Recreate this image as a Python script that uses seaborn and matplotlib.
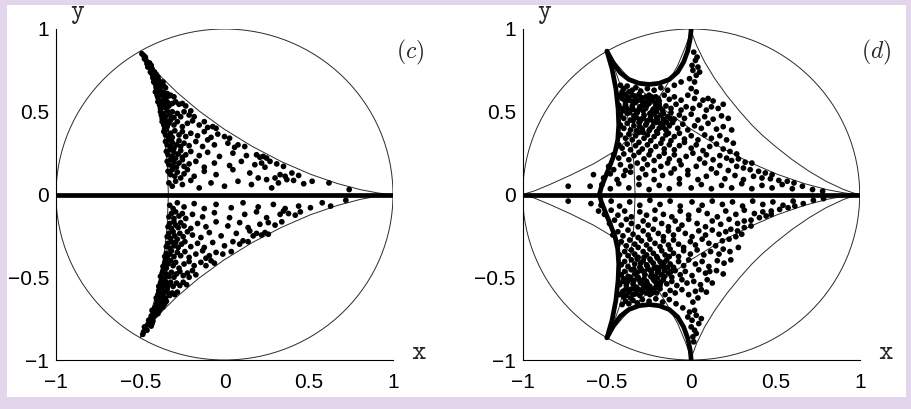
import seaborn as sns
import matplotlib.pyplot as plt
from matplotlib.patches import Circle, Rectangle

# scattered points as (x, y)
c_upper = [(-0.49,0.85),(-0.48,0.84),(-0.475,0.82),(-0.47,0.83),(-0.465,0.81),
    (-0.46,0.79),(-0.45,0.78),(-0.455,0.77),(-0.44,0.77),(-0.445,0.795),(-0.43,0.76),(-0.435,0.78),
    (-0.44,0.74),(-0.43,0.73),(-0.42,0.72),(-0.41,0.71),(-0.40,0.70),(-0.425,0.705),(-0.415,0.74),(-0.405,0.725),(-0.395,0.71),
    (-0.42,0.68),(-0.41,0.67),(-0.40,0.66),(-0.39,0.69),(-0.38,0.675),(-0.37,0.66),(-0.36,0.655),(-0.35,0.645),(-0.405,0.645),(-0.385,0.64),(-0.365,0.68),
    (-0.41,0.62),(-0.40,0.60),(-0.39,0.61),(-0.38,0.625),(-0.37,0.60),(-0.36,0.615),(-0.35,0.59),(-0.34,0.61),(-0.33,0.595),(-0.32,0.60),(-0.30,0.59),(-0.395,0.585),(-0.355,0.58),
    (-0.395,0.56),(-0.385,0.54),(-0.375,0.565),(-0.365,0.53),(-0.355,0.55),(-0.34,0.56),(-0.33,0.535),(-0.31,0.55),(-0.29,0.56),(-0.27,0.545),(-0.25,0.55),(-0.23,0.535),(-0.38,0.52),(-0.35,0.525),
    (-0.38,0.50),(-0.375,0.48),(-0.36,0.49),(-0.35,0.47),(-0.34,0.505),(-0.325,0.48),(-0.31,0.50),(-0.30,0.465),(-0.28,0.49),(-0.26,0.47),(-0.24,0.50),(-0.21,0.48),(-0.18,0.47),(-0.20,0.505),(-0.37,0.46),
    (-0.37,0.44),(-0.36,0.42),(-0.35,0.445),(-0.34,0.41),(-0.33,0.43),(-0.32,0.45),(-0.30,0.42),(-0.28,0.44),(-0.25,0.41),(-0.22,0.43),(-0.19,0.445),(-0.15,0.42),(-0.12,0.44),(-0.10,0.405),(-0.07,0.41),(-0.05,0.40),(-0.355,0.40),
    (-0.36,0.38),(-0.35,0.36),(-0.345,0.39),(-0.335,0.35),(-0.32,0.37),(-0.31,0.345),(-0.295,0.385),(-0.27,0.36),(-0.25,0.38),(-0.23,0.35),(-0.20,0.37),(-0.16,0.355),(-0.12,0.38),(-0.08,0.345),(-0.04,0.365),(0.0,0.35),(0.03,0.34),(-0.10,0.33),
    (-0.35,0.32),(-0.34,0.30),(-0.33,0.33),(-0.32,0.29),(-0.31,0.315),(-0.30,0.28),(-0.285,0.30),(-0.27,0.325),(-0.26,0.29),(-0.24,0.31),(-0.21,0.295),(-0.17,0.32),(-0.13,0.29),(-0.06,0.30),(0.02,0.31),(0.06,0.285),(0.12,0.29),(0.08,0.30),
    (-0.345,0.26),(-0.335,0.24),(-0.325,0.27),(-0.31,0.23),(-0.30,0.255),(-0.29,0.22),(-0.275,0.245),(-0.26,0.265),(-0.25,0.225),(-0.23,0.24),(-0.20,0.26),(-0.15,0.235),(-0.10,0.255),(-0.03,0.23),(0.05,0.25),(0.13,0.235),(0.19,0.24),(0.21,0.225),(0.23,0.23),(0.25,0.22),
    (-0.34,0.20),(-0.33,0.18),(-0.32,0.21),(-0.31,0.17),(-0.30,0.195),(-0.285,0.165),(-0.27,0.19),(-0.25,0.21),(-0.24,0.17),(-0.21,0.185),(-0.17,0.20),(-0.12,0.165),(-0.06,0.19),(0.03,0.175),(0.10,0.20),(0.18,0.18),(0.22,0.19),(0.27,0.20),(0.31,0.185),(0.35,0.17),(0.24,0.165),
    (-0.335,0.14),(-0.32,0.12),(-0.31,0.15),(-0.295,0.11),(-0.28,0.135),(-0.26,0.10),(-0.24,0.125),(-0.22,0.15),(-0.18,0.11),(-0.12,0.14),(-0.05,0.12),(0.05,0.15),(0.15,0.13),(0.20,0.10),(0.33,0.12),(0.30,0.10),(0.36,0.11),(0.40,0.13),(0.44,0.115),(0.37,0.09),
    (-0.33,0.07),(-0.31,0.05),(-0.29,0.08),(-0.25,0.06),(-0.20,0.085),(-0.15,0.04),(-0.08,0.07),(0.0,0.05),(0.08,0.08),(0.16,0.06),(0.25,0.09),(0.32,0.07),(0.41,0.085),(0.47,0.065),(0.52,0.08),(0.62,0.07),(0.74,0.03),(0.28,0.04)]

c_lower = [(-0.485,-0.845),(-0.48,-0.83),(-0.47,-0.815),(-0.475,-0.80),(-0.46,-0.82),
    (-0.455,-0.785),(-0.445,-0.77),(-0.45,-0.76),(-0.435,-0.795),(-0.44,-0.755),(-0.425,-0.765),(-0.43,-0.78),
    (-0.435,-0.735),(-0.425,-0.745),(-0.42,-0.715),(-0.41,-0.73),(-0.40,-0.705),(-0.395,-0.72),(-0.43,-0.70),(-0.385,-0.70),(-0.415,-0.70),
    (-0.415,-0.685),(-0.405,-0.665),(-0.395,-0.69),(-0.385,-0.67),(-0.375,-0.655),(-0.365,-0.68),(-0.355,-0.66),(-0.345,-0.645),(-0.40,-0.645),(-0.38,-0.64),(-0.36,-0.64),
    (-0.405,-0.625),(-0.395,-0.605),(-0.385,-0.62),(-0.375,-0.595),(-0.365,-0.61),(-0.35,-0.625),(-0.34,-0.59),(-0.325,-0.61),(-0.31,-0.595),(-0.295,-0.605),(-0.39,-0.58),(-0.355,-0.585),(-0.28,-0.59),
    (-0.39,-0.555),(-0.38,-0.535),(-0.37,-0.56),(-0.36,-0.545),(-0.35,-0.525),(-0.335,-0.55),(-0.32,-0.53),(-0.305,-0.555),(-0.285,-0.535),(-0.265,-0.55),(-0.245,-0.53),(-0.225,-0.545),(-0.375,-0.52),(-0.34,-0.57),
    (-0.38,-0.495),(-0.37,-0.475),(-0.355,-0.505),(-0.345,-0.48),(-0.33,-0.495),(-0.315,-0.47),(-0.30,-0.50),(-0.285,-0.48),(-0.265,-0.465),(-0.245,-0.49),(-0.22,-0.475),(-0.19,-0.46),(-0.17,-0.485),(-0.21,-0.50),(-0.365,-0.46),
    (-0.365,-0.435),(-0.355,-0.415),(-0.345,-0.445),(-0.335,-0.42),(-0.32,-0.40),(-0.305,-0.43),(-0.29,-0.41),(-0.27,-0.445),(-0.24,-0.42),(-0.21,-0.405),(-0.18,-0.43),(-0.14,-0.41),(-0.11,-0.43),(-0.08,-0.40),(-0.06,-0.415),(-0.35,-0.40),
    (-0.355,-0.375),(-0.345,-0.355),(-0.34,-0.385),(-0.325,-0.36),(-0.315,-0.34),(-0.30,-0.375),(-0.28,-0.35),(-0.26,-0.37),(-0.235,-0.345),(-0.21,-0.38),(-0.17,-0.36),(-0.13,-0.34),(-0.09,-0.37),(-0.05,-0.35),(-0.01,-0.36),(0.04,-0.345),(-0.11,-0.385),
    (-0.345,-0.315),(-0.335,-0.295),(-0.325,-0.325),(-0.315,-0.285),(-0.30,-0.31),(-0.29,-0.29),(-0.275,-0.32),(-0.255,-0.30),(-0.235,-0.285),(-0.20,-0.315),(-0.16,-0.295),(-0.12,-0.32),(-0.07,-0.29),(0.0,-0.31),(0.05,-0.285),(0.09,-0.30),(0.11,-0.28),(0.14,-0.285),
    (-0.34,-0.255),(-0.33,-0.235),(-0.32,-0.265),(-0.305,-0.225),(-0.295,-0.25),(-0.28,-0.27),(-0.265,-0.235),(-0.245,-0.255),(-0.22,-0.225),(-0.19,-0.245),(-0.14,-0.26),(-0.09,-0.23),(-0.02,-0.25),(0.07,-0.235),(0.15,-0.22),(0.19,-0.235),(0.22,-0.245),(0.24,-0.23),(0.26,-0.24),(0.17,-0.25),
    (-0.335,-0.195),(-0.325,-0.175),(-0.315,-0.205),(-0.30,-0.165),(-0.29,-0.185),(-0.275,-0.20),(-0.26,-0.17),(-0.24,-0.19),(-0.20,-0.205),(-0.16,-0.175),(-0.11,-0.195),(-0.05,-0.165),(0.02,-0.19),(0.09,-0.17),(0.14,-0.20),(0.21,-0.18),(0.26,-0.17),(0.30,-0.185),(0.34,-0.165),
    (-0.33,-0.135),(-0.315,-0.115),(-0.30,-0.145),(-0.29,-0.105),(-0.27,-0.13),(-0.25,-0.115),(-0.23,-0.145),(-0.19,-0.12),(-0.13,-0.135),(-0.06,-0.11),(0.03,-0.14),(0.12,-0.12),(0.19,-0.105),(0.25,-0.14),(0.33,-0.12),(0.35,-0.10),(0.38,-0.115),(0.42,-0.125),(0.45,-0.105),
    (-0.325,-0.065),(-0.305,-0.085),(-0.28,-0.05),(-0.24,-0.075),(-0.18,-0.055),(-0.12,-0.085),(-0.05,-0.06),(0.04,-0.08),(0.11,-0.05),(0.2,-0.075),(0.29,-0.06),(0.36,-0.085),(0.44,-0.07),(0.51,-0.08),(0.63,-0.07),(0.72,-0.035),(0.58,-0.05)]

d_upper = [(0.015,0.86),(0.025,0.81),(0.005,0.78),(0.035,0.83),
    (0.01,0.75),(0.03,0.72),(-0.01,0.70),(0.04,0.77),(0.02,0.68),(0.05,0.74),
    (-0.42,0.66),(-0.40,0.64),(-0.38,0.655),(-0.35,0.63),(-0.33,0.645),(-0.30,0.625),(-0.26,0.64),(-0.22,0.63),(-0.18,0.645),(-0.14,0.63),(-0.10,0.66),(-0.06,0.68),(0.0,0.64),(0.03,0.62),(-0.41,0.62),(-0.37,0.62),
    (-0.43,0.60),(-0.41,0.58),(-0.39,0.605),(-0.37,0.57),(-0.35,0.60),(-0.33,0.58),(-0.31,0.605),(-0.29,0.565),(-0.27,0.59),(-0.25,0.60),(-0.23,0.57),(-0.21,0.59),(-0.19,0.565),(-0.16,0.60),(-0.13,0.575),(-0.10,0.59),(-0.06,0.57),(-0.02,0.60),(0.02,0.58),(0.07,0.57),(0.10,0.58),(0.13,0.565),
    (-0.43,0.54),(-0.41,0.52),(-0.39,0.545),(-0.37,0.51),(-0.35,0.535),(-0.33,0.555),(-0.31,0.515),(-0.29,0.54),(-0.27,0.52),(-0.25,0.55),(-0.23,0.505),(-0.21,0.53),(-0.19,0.545),(-0.17,0.51),(-0.15,0.535),(-0.12,0.52),(-0.09,0.545),(-0.06,0.51),(-0.03,0.53),(0.01,0.52),(0.05,0.54),(0.09,0.51),(0.12,0.53),(0.16,0.52),(0.19,0.545),
    (-0.42,0.48),(-0.40,0.46),(-0.38,0.49),(-0.36,0.45),(-0.34,0.475),(-0.32,0.495),(-0.30,0.455),(-0.28,0.48),(-0.26,0.445),(-0.24,0.47),(-0.22,0.49),(-0.20,0.455),(-0.18,0.48),(-0.16,0.445),(-0.14,0.47),(-0.12,0.495),(-0.10,0.455),(-0.07,0.48),(-0.04,0.46),(0.0,0.485),(0.04,0.45),(0.08,0.47),(0.13,0.455),(0.18,0.475),(0.22,0.46),
    (-0.42,0.42),(-0.40,0.40),(-0.38,0.43),(-0.36,0.39),(-0.34,0.415),(-0.31,0.435),(-0.29,0.395),(-0.27,0.42),(-0.25,0.385),(-0.23,0.41),(-0.21,0.435),(-0.19,0.40),(-0.17,0.425),(-0.15,0.39),(-0.13,0.415),(-0.11,0.435),(-0.08,0.40),(-0.05,0.425),(-0.02,0.39),(0.02,0.415),(0.06,0.40),(0.10,0.43),(0.15,0.395),(0.19,0.41),(0.24,0.39),
    (-0.42,0.36),(-0.39,0.34),(-0.37,0.365),(-0.35,0.33),(-0.33,0.355),(-0.31,0.375),(-0.28,0.34),(-0.26,0.36),(-0.24,0.325),(-0.22,0.35),(-0.20,0.37),(-0.17,0.335),(-0.15,0.36),(-0.12,0.325),(-0.10,0.35),(-0.07,0.37),(-0.04,0.335),(0.0,0.355),(0.04,0.33),(0.08,0.36),(0.12,0.34),(0.17,0.355),(0.21,0.33),(0.25,0.31),
    (-0.43,0.30),(-0.41,0.28),(-0.38,0.305),(-0.36,0.27),(-0.33,0.295),(-0.31,0.315),(-0.29,0.275),(-0.26,0.30),(-0.24,0.265),(-0.21,0.29),(-0.18,0.31),(-0.16,0.275),(-0.13,0.30),(-0.10,0.27),(-0.07,0.295),(-0.04,0.315),(0.0,0.28),(0.03,0.30),(0.07,0.265),(0.11,0.29),(0.15,0.305),(0.19,0.275),(0.23,0.26),(0.27,0.245),
    (-0.46,0.24),(-0.43,0.22),(-0.40,0.245),(-0.37,0.21),(-0.34,0.235),(-0.31,0.255),(-0.28,0.215),(-0.25,0.24),(-0.22,0.205),(-0.19,0.23),(-0.16,0.25),(-0.13,0.215),(-0.10,0.24),(-0.07,0.205),(-0.03,0.23),(0.01,0.25),(0.05,0.215),(0.09,0.24),(0.13,0.21),(0.17,0.235),(0.21,0.22),(0.24,0.205),(0.28,0.215),(0.32,0.195),(0.36,0.19),
    (-0.49,0.17),(-0.46,0.15),(-0.42,0.18),(-0.39,0.145),(-0.36,0.17),(-0.32,0.19),(-0.29,0.155),(-0.26,0.18),(-0.22,0.145),(-0.18,0.17),(-0.14,0.19),(-0.10,0.155),(-0.06,0.18),(-0.02,0.145),(0.03,0.17),(0.08,0.19),(0.12,0.155),(0.17,0.175),(0.22,0.145),(0.27,0.17),(0.31,0.16),(0.35,0.15),(0.40,0.14),(0.44,0.13),(0.48,0.12),
    (-0.58,0.12),(-0.52,0.10),(-0.48,0.125),(-0.44,0.09),(-0.40,0.115),(-0.36,0.135),(-0.31,0.10),(-0.27,0.12),(-0.22,0.09),(-0.17,0.115),(-0.12,0.13),(-0.07,0.095),(-0.02,0.12),(0.04,0.09),(0.09,0.11),(0.15,0.13),(0.2,0.095),(0.26,0.115),(0.31,0.09),(0.37,0.11),(0.42,0.10),(0.47,0.095),(0.52,0.085),(0.57,0.08),(0.61,0.07),
    (-0.73,0.05),(-0.60,0.05),(-0.53,0.06),(-0.48,0.035),(-0.43,0.065),(-0.37,0.04),(-0.31,0.06),(-0.25,0.03),(-0.19,0.055),(-0.13,0.035),(-0.07,0.065),(0.0,0.04),(0.06,0.06),(0.12,0.035),(0.18,0.055),(0.24,0.04),(0.30,0.065),(0.36,0.035),(0.42,0.055),(0.48,0.04),(0.54,0.06),(0.60,0.035),(0.66,0.05),(0.72,0.03),(0.78,0.02)]

d_upper_dense = [(-0.415,0.59),(-0.395,0.57),(-0.375,0.585),(-0.355,0.565),(-0.335,0.595),(-0.315,0.57),(-0.295,0.585),(-0.275,0.555),(-0.255,0.575),(-0.235,0.59),(-0.215,0.555),(-0.195,0.58),
    (-0.405,0.505),(-0.385,0.525),(-0.365,0.495),(-0.345,0.515),(-0.325,0.5),(-0.305,0.53),(-0.285,0.505),(-0.265,0.535),(-0.245,0.49),(-0.225,0.515),(-0.205,0.5),(-0.185,0.525),(-0.165,0.49),
    (-0.345,0.445),(-0.325,0.465),(-0.305,0.44),(-0.285,0.46),(-0.265,0.43),(-0.245,0.455),(-0.225,0.44),(-0.205,0.465),(-0.185,0.43),(-0.165,0.455),(-0.145,0.435),(-0.125,0.46),
    (-0.325,0.385),(-0.305,0.41),(-0.285,0.375),(-0.245,0.395),(-0.205,0.38),(-0.165,0.405),(-0.135,0.37)]

d_lower = [(0.01,-0.86),(0.02,-0.82),(0.0,-0.80),(0.03,-0.84),(0.015,-0.89),
    (0.005,-0.76),(0.03,-0.73),(-0.01,-0.71),(0.045,-0.78),(0.02,-0.70),(0.06,-0.75),(-0.02,-0.74),
    (-0.41,-0.665),(-0.39,-0.645),(-0.37,-0.66),(-0.345,-0.64),(-0.32,-0.655),(-0.29,-0.635),(-0.25,-0.645),(-0.21,-0.63),(-0.17,-0.65),(-0.13,-0.635),(-0.09,-0.66),(-0.05,-0.685),(0.01,-0.65),(0.04,-0.625),(-0.40,-0.62),(-0.36,-0.625),
    (-0.425,-0.605),(-0.405,-0.585),(-0.385,-0.61),(-0.365,-0.575),(-0.345,-0.605),(-0.325,-0.585),(-0.305,-0.61),(-0.285,-0.57),(-0.265,-0.595),(-0.245,-0.605),(-0.225,-0.575),(-0.205,-0.595),(-0.185,-0.57),(-0.155,-0.605),(-0.125,-0.58),(-0.095,-0.595),(-0.055,-0.575),(-0.015,-0.605),(0.025,-0.585),(0.06,-0.575),(0.09,-0.59),
    (-0.425,-0.545),(-0.405,-0.525),(-0.385,-0.55),(-0.365,-0.515),(-0.345,-0.54),(-0.325,-0.56),(-0.305,-0.52),(-0.285,-0.545),(-0.265,-0.525),(-0.245,-0.555),(-0.225,-0.51),(-0.205,-0.535),(-0.185,-0.55),(-0.165,-0.515),(-0.145,-0.54),(-0.115,-0.525),(-0.085,-0.55),(-0.055,-0.515),(-0.025,-0.535),(0.015,-0.525),(0.055,-0.545),(0.095,-0.515),(0.125,-0.535),
    (-0.415,-0.485),(-0.395,-0.465),(-0.375,-0.495),(-0.355,-0.455),(-0.335,-0.48),(-0.315,-0.50),(-0.295,-0.46),(-0.275,-0.485),(-0.255,-0.45),(-0.235,-0.475),(-0.215,-0.495),(-0.195,-0.46),(-0.175,-0.485),(-0.155,-0.45),(-0.135,-0.475),(-0.115,-0.50),(-0.095,-0.46),(-0.065,-0.485),(-0.035,-0.465),(0.005,-0.49),(0.045,-0.455),(0.085,-0.475),(0.11,-0.465),(0.15,-0.46),(0.19,-0.48),
    (-0.415,-0.425),(-0.395,-0.405),(-0.375,-0.435),(-0.355,-0.395),(-0.335,-0.42),(-0.305,-0.44),(-0.285,-0.40),(-0.265,-0.425),(-0.245,-0.39),(-0.225,-0.415),(-0.205,-0.44),(-0.185,-0.405),(-0.165,-0.43),(-0.145,-0.395),(-0.125,-0.42),(-0.105,-0.44),(-0.075,-0.405),(-0.045,-0.43),(-0.015,-0.395),(0.025,-0.42),(0.065,-0.405),(0.105,-0.435),(0.155,-0.40),(0.195,-0.415),(0.235,-0.395),
    (-0.425,-0.365),(-0.395,-0.345),(-0.375,-0.37),(-0.355,-0.335),(-0.335,-0.36),(-0.315,-0.38),(-0.285,-0.345),(-0.265,-0.365),(-0.245,-0.33),(-0.225,-0.355),(-0.205,-0.375),(-0.175,-0.34),(-0.155,-0.365),(-0.125,-0.33),(-0.105,-0.355),(-0.075,-0.375),(-0.045,-0.34),(-0.005,-0.36),(0.035,-0.335),(0.075,-0.365),(0.115,-0.345),(0.165,-0.36),(0.19,-0.33),(0.23,-0.345),(0.28,-0.32),
    (-0.435,-0.305),(-0.415,-0.285),(-0.385,-0.31),(-0.365,-0.275),(-0.335,-0.30),(-0.315,-0.32),(-0.295,-0.28),(-0.265,-0.305),(-0.245,-0.27),(-0.215,-0.295),(-0.185,-0.315),(-0.165,-0.28),(-0.135,-0.305),(-0.105,-0.275),(-0.075,-0.30),(-0.045,-0.32),(-0.005,-0.285),(0.025,-0.305),(0.065,-0.27),(0.105,-0.295),(0.145,-0.31),(0.185,-0.28),(0.225,-0.27),(0.265,-0.255),(0.30,-0.24),
    (-0.465,-0.245),(-0.435,-0.225),(-0.405,-0.25),(-0.375,-0.215),(-0.345,-0.24),(-0.315,-0.26),(-0.285,-0.22),(-0.255,-0.245),(-0.225,-0.21),(-0.195,-0.235),(-0.165,-0.255),(-0.135,-0.22),(-0.105,-0.245),(-0.075,-0.21),(-0.035,-0.235),(0.005,-0.255),(0.045,-0.22),(0.085,-0.245),(0.125,-0.215),(0.165,-0.24),(0.205,-0.225),(0.235,-0.21),(0.275,-0.22),(0.315,-0.2),(0.355,-0.19),
    (-0.485,-0.175),(-0.455,-0.155),(-0.415,-0.185),(-0.385,-0.15),(-0.355,-0.175),(-0.315,-0.195),(-0.285,-0.16),(-0.255,-0.185),(-0.215,-0.15),(-0.175,-0.175),(-0.135,-0.195),(-0.095,-0.16),(-0.055,-0.185),(-0.015,-0.15),(0.035,-0.175),(0.085,-0.195),(0.125,-0.16),(0.175,-0.18),(0.225,-0.15),(0.275,-0.175),(0.315,-0.16),(0.355,-0.155),(0.405,-0.14),(0.445,-0.13),(0.475,-0.12),
    (-0.55,-0.10),(-0.515,-0.12),(-0.475,-0.095),(-0.435,-0.125),(-0.395,-0.10),(-0.355,-0.135),(-0.305,-0.105),(-0.265,-0.125),(-0.215,-0.095),(-0.165,-0.12),(-0.115,-0.135),(-0.065,-0.10),(-0.015,-0.125),(0.045,-0.095),(0.095,-0.115),(0.155,-0.135),(0.205,-0.10),(0.265,-0.12),(0.315,-0.095),(0.375,-0.115),(0.425,-0.105),(0.475,-0.1),(0.525,-0.09),(0.575,-0.08),(0.615,-0.07),
    (-0.73,-0.04),(-0.595,-0.055),(-0.535,-0.065),(-0.475,-0.04),(-0.425,-0.07),(-0.365,-0.045),(-0.305,-0.065),(-0.245,-0.035),(-0.185,-0.06),(-0.125,-0.04),(-0.065,-0.07),(0.005,-0.045),(0.065,-0.065),(0.125,-0.04),(0.185,-0.06),(0.245,-0.045),(0.305,-0.07),(0.365,-0.04),(0.425,-0.06),(0.485,-0.045),(0.545,-0.065),(0.605,-0.04),(0.665,-0.055),(0.725,-0.035),(0.785,-0.025)]

d_lower_dense = [(-0.41,-0.595),(-0.39,-0.575),(-0.37,-0.59),(-0.35,-0.57),(-0.33,-0.6),(-0.31,-0.575),(-0.29,-0.59),(-0.27,-0.56),(-0.25,-0.58),(-0.23,-0.595),(-0.21,-0.56),
    (-0.4,-0.51),(-0.38,-0.53),(-0.36,-0.5),(-0.34,-0.52),(-0.32,-0.505),(-0.3,-0.535),(-0.28,-0.51),(-0.26,-0.54),(-0.24,-0.495),(-0.22,-0.52),(-0.2,-0.505),(-0.18,-0.53),(-0.16,-0.495),
    (-0.34,-0.45),(-0.32,-0.47),(-0.3,-0.445),(-0.28,-0.465),(-0.26,-0.435),(-0.24,-0.46),(-0.22,-0.445),(-0.2,-0.47),(-0.18,-0.435),(-0.16,-0.46),(-0.14,-0.44),(-0.12,-0.465),
    (-0.32,-0.39),(-0.3,-0.415),(-0.28,-0.38),(-0.24,-0.4),(-0.2,-0.385),(-0.16,-0.41),(-0.13,-0.375)]

# boundary curves
deltoid_up = [(1.0,0.0),(0.978,0.001),(0.912,0.009),(0.808,0.029),(0.671,0.066),(0.511,0.122),(0.339,0.198),
    (0.164,0.291),(-0.004,0.396),(-0.155,0.508),(-0.283,0.618),(-0.382,0.717),(-0.450,0.797),(-0.489,0.849),
    (-0.5,0.866),(-0.489,0.845),(-0.462,0.782),(-0.427,0.680),(-0.391,0.543),(-0.360,0.375),(-0.340,0.187),(-0.333,0.0)]
deltoid_lo = [(1.0,0.0),(0.978,-0.001),(0.912,-0.009),(0.808,-0.029),(0.671,-0.066),(0.511,-0.122),(0.339,-0.198),
    (0.164,-0.291),(-0.004,-0.396),(-0.155,-0.508),(-0.283,-0.618),(-0.382,-0.717),(-0.450,-0.797),(-0.489,-0.849),
    (-0.5,-0.866),(-0.489,-0.845),(-0.462,-0.782),(-0.427,-0.680),(-0.391,-0.543),(-0.360,-0.375),(-0.340,-0.187),(-0.333,0.0)]
arc_ru = [(1,0),(0.96,0.01),(0.9,0.032),(0.8,0.08),(0.7,0.14),(0.6,0.21),(0.5,0.29),(0.42,0.36),(0.36,0.42),
    (0.29,0.5),(0.21,0.6),(0.14,0.7),(0.08,0.8),(0.032,0.9),(0.01,0.96),(0,1)]
arc_rl = [(1,0),(0.96,-0.01),(0.9,-0.032),(0.8,-0.08),(0.7,-0.14),(0.6,-0.21),(0.5,-0.29),(0.42,-0.36),(0.36,-0.42),
    (0.29,-0.5),(0.21,-0.6),(0.14,-0.7),(0.08,-0.8),(0.032,-0.9),(0.01,-0.96),(0,-1)]
arc_lu = [(0,1),(-0.01,0.96),(-0.035,0.89),(-0.08,0.78),(-0.146,0.66),(-0.22,0.54),(-0.29,0.44),(-0.36,0.35),
    (-0.44,0.27),(-0.58,0.185),(-0.72,0.115),(-0.84,0.06),(-0.93,0.022),(-1,0)]
arc_ll = [(0,-1),(-0.01,-0.96),(-0.035,-0.89),(-0.08,-0.78),(-0.146,-0.66),(-0.22,-0.54),(-0.29,-0.44),(-0.36,-0.35),
    (-0.44,-0.27),(-0.58,-0.185),(-0.72,-0.115),(-0.84,-0.06),(-0.93,-0.022),(-1,0)]
u_up = [(-0.5,0.866),(-0.46,0.79),(-0.42,0.735),(-0.37,0.695),(-0.31,0.672),(-0.25,0.665),(-0.19,0.672),
    (-0.13,0.695),(-0.08,0.74),(-0.045,0.8),(-0.02,0.87),(-0.006,0.94),(0,1.0)]
u_lo = [(-0.5,-0.866),(-0.46,-0.79),(-0.42,-0.735),(-0.37,-0.695),(-0.31,-0.672),(-0.25,-0.665),(-0.19,-0.672),
    (-0.13,-0.695),(-0.08,-0.74),(-0.045,-0.8),(-0.02,-0.87),(-0.006,-0.94),(0,-1.0)]
s_up = [(-0.5,0.866),(-0.47,0.76),(-0.447,0.64),(-0.434,0.52),(-0.43,0.42),(-0.436,0.33),(-0.452,0.255),
    (-0.48,0.18),(-0.51,0.105),(-0.533,0.045),(-0.545,0.0)]
s_lo = [(-0.5,-0.866),(-0.47,-0.76),(-0.447,-0.64),(-0.434,-0.52),(-0.43,-0.42),(-0.436,-0.33),(-0.452,-0.255),
    (-0.48,-0.18),(-0.51,-0.105),(-0.533,-0.045),(-0.545,0.0)]
real_axis = [(-1.0,0.0),(1.0,0.0)]

ticks = [-1, -0.5, 0, 0.5, 1]
tick_labels = ['\u22121', '\u22120.5', '0', '0.5', '1']
panel_names = ['(c)', '(d)']

sns.set_style('white')
plt.rcParams['font.family'] = ['Liberation Sans', 'DejaVu Sans']
plt.rcParams['mathtext.fontset'] = 'cm'

fig = plt.figure(figsize=(9.12, 4.09), dpi=100, facecolor='#e3d6ec')
fig.patches.append(Rectangle((7/912, 12/409), 899/912, 392/409, transform=fig.transFigure,
                             facecolor='white', edgecolor='none', zorder=-5))

thin = dict(color='#2a2a2a', lw=0.7, sort=False, estimator=None, legend=False)
thick = dict(color='black', lw=3.4, sort=False, estimator=None, legend=False)


def curve(ax, pts, style):
    sns.lineplot(x=[p[0] for p in pts], y=[p[1] for p in pts], ax=ax, **style)


def dots(ax, pts):
    sns.scatterplot(x=[p[0] for p in pts], y=[p[1] for p in pts], ax=ax,
                    s=17, color='black', edgecolor='none', linewidth=0, zorder=3)


lefts = [56, 522.7]
axes = []
for i, left in enumerate(lefts):
    ax = fig.add_axes([left/912, 49/409, 337/912, 331/409])
    ax.set_zorder(2)
    ax.set_facecolor('none')
    ax.set_xlim(-1, 1)
    ax.set_ylim(-1, 1)
    ax.add_patch(Circle((0, 0), 1, fill=False, color='#2a2a2a', lw=0.7))
    curve(ax, deltoid_up, thin)
    curve(ax, deltoid_lo, thin)
    for side in ['top', 'right']:
        ax.spines[side].set_visible(False)
    for side in ['left', 'bottom']:
        ax.spines[side].set_color('black')
        ax.spines[side].set_linewidth(0.8)
    ax.set_xticks(ticks)
    ax.set_xticklabels(tick_labels)
    ax.set_yticks(ticks)
    ax.set_yticklabels(tick_labels)
    ax.tick_params(direction='in', length=4, width=0.8, labelsize=15, colors='black')
    ax.tick_params(axis='x', pad=9)
    ax.tick_params(axis='y', pad=5)
    ax.set_xlabel('')
    ax.set_ylabel('')
    ax.text(1.1, 0.86, '$' + panel_names[i] + '$', fontsize=17, ha='center', va='center', clip_on=False)
    axes.append(ax)

ax_c, ax_d = axes
dots(ax_c, c_upper)
dots(ax_c, c_lower)
curve(ax_c, real_axis, thick)

for arc in [arc_ru, arc_rl, arc_lu, arc_ll]:
    curve(ax_d, arc, thin)
dots(ax_d, d_upper)
dots(ax_d, d_upper_dense)
dots(ax_d, d_lower)
dots(ax_d, d_lower_dense)
for line in [u_up, u_lo, s_up, s_lo, real_axis]:
    curve(ax_d, line, thick)

for xl, xx in zip(lefts, [419, 886]):
    fig.text((xl + 22) / 912, 1 - 14/409, r'$\mathtt{y}$', fontsize=19, ha='center', va='center')
    fig.text(xx / 912, 1 - 352/409, r'$\mathtt{x}$', fontsize=20, ha='center', va='center')

fig.savefig('out.png', dpi=100, facecolor=fig.get_facecolor())
